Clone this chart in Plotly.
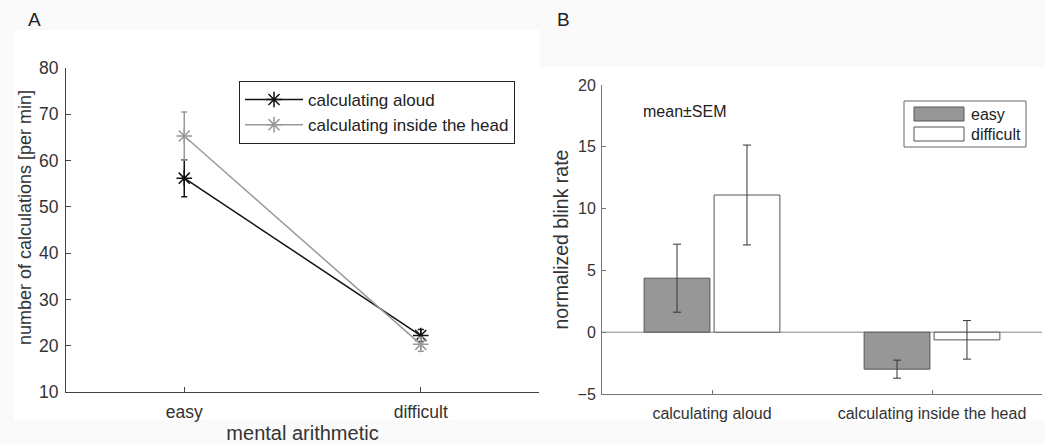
import plotly.graph_objects as go

# ---- data ----
levels_A = ["easy", "difficult"]
aloud_mean = [56.2, 22.2]
aloud_sem = [4.0, 1.3]
head_mean = [65.3, 20.3]
head_sem = [5.2, 1.5]

groups_B = ["calculating aloud", "calculating inside the head"]
easy_mean = [4.37, -2.99]
easy_sem = [2.75, 0.73]
diff_mean = [11.1, -0.62]
diff_sem = [4.04, 1.56]

W, H = 1045, 444
FONT = "Arial, Liberation Sans, sans-serif"

fig = go.Figure()

fig.add_trace(go.Scatter(
    x=levels_A, y=aloud_mean, name="calculating aloud", mode="lines+markers",
    line=dict(color="#111111", width=1.5),
    marker=dict(symbol="asterisk-open", size=13, color="#111111",
                line=dict(color="#111111", width=1.5)),
    error_y=dict(type="data", array=aloud_sem, color="#111111", thickness=1.5, width=3),
    xaxis="x", yaxis="y", legend="legend"))
fig.add_trace(go.Scatter(
    x=levels_A, y=head_mean, name="calculating inside the head", mode="lines+markers",
    line=dict(color="#999999", width=1.5),
    marker=dict(symbol="asterisk-open", size=13, color="#999999",
                line=dict(color="#999999", width=1.5)),
    error_y=dict(type="data", array=head_sem, color="#999999", thickness=1.5, width=3),
    xaxis="x", yaxis="y", legend="legend"))

fig.add_trace(go.Bar(
    x=groups_B, y=easy_mean, name="easy",
    marker=dict(color="#979797", line=dict(color="#555555", width=1)),
    error_y=dict(type="data", array=easy_sem, color="#333333", thickness=1, width=4),
    xaxis="x2", yaxis="y2", showlegend=False))
fig.add_trace(go.Bar(
    x=groups_B, y=diff_mean, name="difficult",
    marker=dict(color="#ffffff", line=dict(color="#555555", width=1)),
    error_y=dict(type="data", array=diff_sem, color="#333333", thickness=1, width=4),
    xaxis="x2", yaxis="y2", showlegend=False))

axA = dict(showline=True, linecolor="#444444", linewidth=1.2, ticks="inside",
           ticklen=5, tickcolor="#444444", showgrid=False, zeroline=False,
           automargin=False,
           tickfont=dict(family=FONT, size=17.5, color="#333333"))
axB = dict(showline=True, linecolor="#777777", linewidth=1, ticks="inside",
           ticklen=4, tickcolor="#777777", showgrid=False, zeroline=False,
           automargin=False,
           tickfont=dict(family=FONT, size=16, color="#333333"))

fig.update_layout(
    width=W, height=H,
    margin=dict(l=0, r=0, t=0, b=0),
    paper_bgcolor="#fafafa", plot_bgcolor="#ffffff",
    font=dict(family=FONT, color="#333333"),
    barmode="group", bargap=0.364, bargroupgap=0.06,
    xaxis=dict(**axA, domain=[66 / W, 539 / W], range=[-0.5, 1.5], anchor="y",
               ticklabelstandoff=4,
               title=dict(text="mental arithmetic", font=dict(size=20, family=FONT, color="#333333"), standoff=4)),
    yaxis=dict(**axA, domain=[1 - 392 / H, 1 - 68 / H], range=[10, 80], dtick=10, anchor="x",
               ticklabelstandoff=3),
    xaxis2=dict(**axB, domain=[602 / W, 1042 / W], range=[-0.5, 1.5], anchor="y2",
                ticklabelstandoff=5),
    yaxis2=dict(**axB, domain=[1 - 394 / H, 1 - 85 / H], range=[-5, 20], dtick=5, anchor="x2",
                ticklabelstandoff=2,
                title=dict(text="normalized blink rate", font=dict(size=19.5, family=FONT, color="#333333"), standoff=3)),
    legend=dict(x=239 / W, y=1 - 81 / H, xanchor="left", yanchor="top",
                bordercolor="#222222", borderwidth=1, bgcolor="#ffffff",
                font=dict(family=FONT, size=17, color="#222222"),
                itemwidth=58, tracegroupgap=0),
    showlegend=True,
)

shapes = []
# white panel backgrounds
shapes.append(dict(type="rect", xref="paper", yref="paper", x0=14 / W, x1=540 / W,
                   y0=1 - 420 / H, y1=1 - 30 / H, fillcolor="#ffffff", line=dict(width=0), layer="below"))
shapes.append(dict(type="rect", xref="paper", yref="paper", x0=540 / W, x1=1045 / W,
                   y0=1 - 420 / H, y1=1 - 67 / H, fillcolor="#ffffff", line=dict(width=0), layer="below"))
# zero line in panel B
shapes.append(dict(type="line", xref="x2 domain", yref="y2", x0=0, x1=1, y0=0, y1=0,
                   line=dict(color="#888888", width=1), layer="below"))
# manual legend for panel B
lx0, ly0, lx1, ly1 = 904, 101, 1026, 147
shapes.append(dict(type="rect", xref="paper", yref="paper", x0=lx0 / W, x1=lx1 / W,
                   y0=1 - ly1 / H, y1=1 - ly0 / H, fillcolor="#ffffff",
                   line=dict(color="#666666", width=1)))
shapes.append(dict(type="rect", xref="paper", yref="paper", x0=914 / W, x1=964 / W,
                   y0=1 - 121 / H, y1=1 - 107 / H, fillcolor="#979797",
                   line=dict(color="#555555", width=1)))
shapes.append(dict(type="rect", xref="paper", yref="paper", x0=914 / W, x1=964 / W,
                   y0=1 - 141 / H, y1=1 - 127 / H, fillcolor="#ffffff",
                   line=dict(color="#555555", width=1)))
fig.update_layout(shapes=shapes)

ann = [
    dict(text="A", x=26 / W, y=1 - 20 / H, xref="paper", yref="paper", showarrow=False,
         xanchor="left", yanchor="middle", font=dict(size=19, family=FONT, color="#222222")),
    dict(text="B", x=555 / W, y=1 - 20 / H, xref="paper", yref="paper", showarrow=False,
         xanchor="left", yanchor="middle", font=dict(size=19, family=FONT, color="#222222")),
    dict(text="number of calculations [per min]", x=25 / W, y=1 - 218 / H,
         xref="paper", yref="paper", showarrow=False, textangle=-90,
         xanchor="center", yanchor="middle", font=dict(size=18, family=FONT, color="#333333")),
    dict(text="mean±SEM", x=641 / W, y=1 - 111 / H, xref="paper", yref="paper", showarrow=False,
         xanchor="left", yanchor="middle", font=dict(size=16, family=FONT, color="#222222")),
    dict(text="easy", x=969 / W, y=1 - 114 / H, xref="paper", yref="paper", showarrow=False,
         xanchor="left", yanchor="middle", font=dict(size=16, family=FONT, color="#222222")),
    dict(text="difficult", x=969 / W, y=1 - 134 / H, xref="paper", yref="paper", showarrow=False,
         xanchor="left", yanchor="middle", font=dict(size=16, family=FONT, color="#222222")),
]
fig.update_layout(annotations=ann)

fig.write_html("out.html")
